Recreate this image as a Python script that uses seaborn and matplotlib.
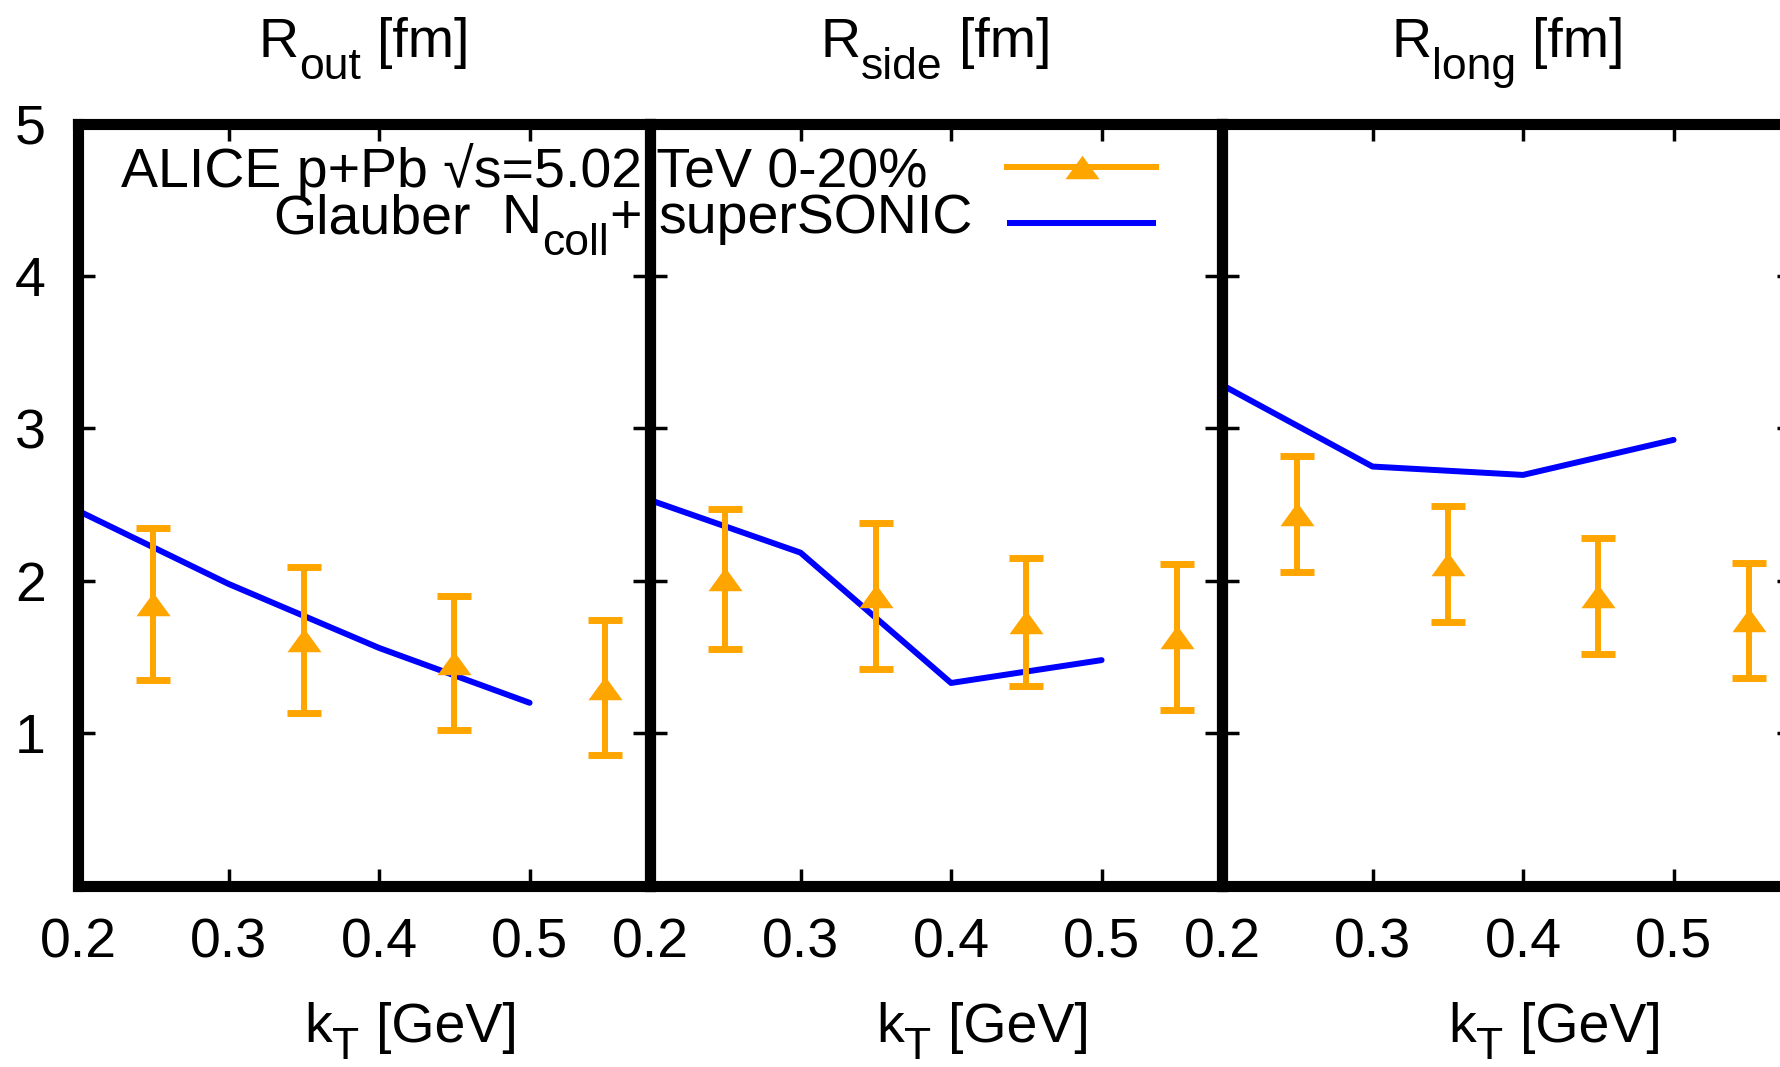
import numpy as np
import pandas as pd
import matplotlib
matplotlib.use("Agg")
import matplotlib.pyplot as plt
from matplotlib.markers import MarkerStyle
import seaborn as sns

# ---------------- data ----------------
# titles / labels as (text, kind) pieces: 'n' normal, 's' subscript, 'g' gap (em)
panel_titles = [
    [("R", "n"), ("out", "s"), (0.278, "g"), ("[fm]", "n")],
    [("R", "n"), ("side", "s"), (0.278, "g"), ("[fm]", "n")],
    [("R", "n"), ("long", "s"), (0.278, "g"), ("[fm]", "n")],
]
xlabel_parts = [("k", "n"), ("T", "s"), (0.278, "g"), ("[GeV]", "n")]

kt_data = [0.25, 0.35, 0.45, 0.55]
r_out_data = [1.85, 1.61, 1.46, 1.30]
r_out_err = [0.50, 0.48, 0.44, 0.44]
r_side_data = [2.01, 1.90, 1.73, 1.63]
r_side_err = [0.46, 0.48, 0.42, 0.48]
r_long_data = [2.44, 2.11, 1.90, 1.74]
r_long_err = [0.38, 0.38, 0.38, 0.38]

kt_model = [0.2, 0.3, 0.4, 0.5]
r_out_model = [2.46, 1.98, 1.56, 1.20]
r_side_model = [2.53, 2.185, 1.33, 1.48]
r_long_model = [3.285, 2.75, 2.695, 2.925]

xtick_vals = [0.2, 0.3, 0.4, 0.5]
xtick_labels = ["0.2", "0.3", "0.4", "0.5"]
ytick_vals = [1, 2, 3, 4, 5]
ytick_labels = ["1", "2", "3", "4", "5"]

legend_data_parts = [("ALICE p+Pb \u221as=5.02 TeV 0-20%", "n")]
legend_model_parts = [("Glauber", "n"), (0.556, "g"), ("N", "n"), ("coll", "s"),
                      ("+", "n"), (0.278, "g"), ("superSONIC", "n")]

data_vals = [r_out_data, r_side_data, r_long_data]
data_errs = [r_out_err, r_side_err, r_long_err]
model_vals = [r_out_model, r_side_model, r_long_model]

# ---------------- style ----------------
sns.set_theme(style="white")
plt.rcParams["font.family"] = ["Liberation Sans", "DejaVu Sans"]
plt.rcParams["text.color"] = "black"
plt.rcParams["axes.labelcolor"] = "black"
plt.rcParams["xtick.color"] = "black"
plt.rcParams["ytick.color"] = "black"

ORANGE = "#FFA500"
BLUE = "#0000FF"
FS = 40
FS_PX = FS * 100 / 72

W_PX, H_PX = 1780, 1067
fig = plt.figure(figsize=(W_PX / 100, H_PX / 100), dpi=100)
fig.patch.set_facecolor("white")
renderer = fig.canvas.get_renderer()


def rich_text(x_px, y_px, parts, ha="center", sub_shift=0.40):
    """Place gnuplot-like enhanced text; (x_px, y_px) = anchor, baseline, pixels from top-left."""
    objs = []
    for s, kind in parts:
        if kind == "g":
            objs.append((None, s * FS_PX, kind))
            continue
        size = FS * 0.8 if kind == "s" else FS
        t = fig.text(0, 0, s, fontsize=size, ha="left", va="baseline", color="black")
        w = t.get_window_extent(renderer).width
        objs.append((t, w + 0.01 * FS_PX, kind))
    total = sum(o[1] for o in objs)
    if ha == "right":
        x0 = x_px - total
    elif ha == "center":
        x0 = x_px - total / 2
    else:
        x0 = x_px
    for t, w, kind in objs:
        if t is not None:
            dy = sub_shift * FS_PX if kind == "s" else 0.0
            t.set_position((x0 / W_PX, 1 - (y_px + dy) / H_PX))
        x0 += w


left_px, panel_w_px = 78, 572
top_px, bottom_px = 123.6, 885.7
L = left_px / W_PX
Wf = panel_w_px / W_PX
B = 1 - bottom_px / H_PX
Hf = (bottom_px - top_px) / H_PX

tri = MarkerStyle([(-1, -0.69), (1, -0.69), (0, 0.69), (-1, -0.69)])

for i in range(3):
    ax = fig.add_axes([L + i * Wf, B, Wf, Hf])
    ax.set_facecolor("none")

    model_df = pd.DataFrame({"kt": kt_model, "r": model_vals[i]})
    sns.lineplot(data=model_df, x="kt", y="r", color=BLUE, linewidth=4.3,
                 ax=ax, legend=False, zorder=2)

    ax.errorbar(kt_data, data_vals[i], yerr=data_errs[i], fmt="none",
                ecolor=ORANGE, elinewidth=4.3, capsize=12, capthick=5, zorder=3)
    data_df = pd.DataFrame({"kt": kt_data, "r": data_vals[i]})
    sns.scatterplot(data=data_df, x="kt", y="r", marker=tri, s=24.5 ** 2,
                    color=ORANGE, linewidth=0, ax=ax, zorder=4, legend=False)

    ax.set_xlim(0.2, 0.58)
    ax.set_ylim(0, 5)
    ax.set_xticks(xtick_vals)
    ax.set_xticklabels(xtick_labels)
    ax.set_yticks(ytick_vals)
    ax.set_yticklabels(ytick_labels)
    ax.set_xlabel("")
    ax.set_ylabel("")
    ax.tick_params(direction="in", length=12, width=2.5, color="black",
                   top=True, right=True, bottom=True, left=True,
                   labelsize=FS, pad=23, labelcolor="black")
    if i > 0:
        ax.tick_params(labelleft=False)
    for sp in ax.spines.values():
        sp.set_visible(True)
        sp.set_linewidth(8)
        sp.set_color("black")
        sp.set_zorder(5)

    cx = left_px + (i + 0.5) * panel_w_px
    rich_text(cx, 57, panel_titles[i], ha="center")
    rich_text(cx + 47, 1042, xlabel_parts, ha="center", sub_shift=0.30)

# ---------------- key (overlay in pixel coords) ----------------
ov = fig.add_axes([0, 0, 1, 1])
ov.set_xlim(0, W_PX)
ov.set_ylim(H_PX, 0)
ov.axis("off")
ov.set_facecolor("none")

rich_text(928, 187, legend_data_parts, ha="right")
rich_text(973, 233, legend_model_parts, ha="right")
ov.errorbar([1081.5], [167], xerr=[77.5], color=ORANGE, marker=tri, ms=24.5,
            mew=0, elinewidth=4.3, capsize=12, capthick=5, linestyle="none")
ov.plot([1007, 1156], [223, 223], color=BLUE, linewidth=4.3,
        solid_capstyle="butt")

fig.savefig("out.png", dpi=100)
